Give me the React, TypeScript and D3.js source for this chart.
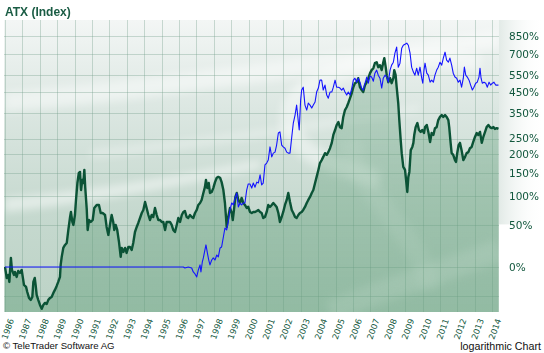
import { area, line, scaleLinear, scaleLog } from "d3";

// years along the bottom, % change ticks on the right (log scale of 1 + p/100)
const yearTicks = [
  1986, 1987, 1988, 1989, 1990, 1991, 1992, 1993, 1994, 1995, 1996, 1997, 1998, 1999, 2000,
  2001, 2002, 2003, 2004, 2005, 2006, 2007, 2008, 2009, 2010, 2011, 2012, 2013, 2014,
];
const pctTicks = [0, 50, 100, 150, 200, 250, 350, 450, 550, 700, 850];
const unlabeledGrid = [-25];

// ATX, change since start in % (green)
const atx: [number, number][] = [
  [1986.0, 0], [1986.1, -10.2], [1986.19, -7.5], [1986.25, -13.6], [1986.34, 9.2], [1986.4, -2.9],
  [1986.52, -7.5], [1986.57, -4.8], [1986.67, -9.3], [1986.76, -3.8], [1986.86, -5.7], [1986.96, -2.9],
  [1987.02, -9.3], [1987.09, -16.1], [1987.21, -17.7], [1987.28, -21.7], [1987.38, -26.1], [1987.48, -27.5],
  [1987.57, -25.4], [1987.63, -13.6], [1987.71, -10.2], [1987.76, -16.1], [1987.82, -23.9], [1987.91, -27.5],
  [1988.01, -31.0], [1988.11, -33.6], [1988.2, -31.0], [1988.3, -29.6], [1988.4, -30.3], [1988.49, -27.5],
  [1988.59, -26.1], [1988.68, -25.4], [1988.78, -22.4], [1988.87, -20.1], [1988.97, -16.9], [1989.06, -13.6],
  [1989.16, -9.3], [1989.2, 2], [1989.26, 10.3], [1989.35, 20.4], [1989.45, 24], [1989.55, 26.4],
  [1989.64, 43.5], [1989.74, 62.9], [1989.79, 71.1], [1989.87, 55.2], [1989.93, 50.7], [1990.02, 66.1],
  [1990.08, 92.4], [1990.16, 127], [1990.24, 150], [1990.31, 153], [1990.37, 112], [1990.44, 134],
  [1990.5, 127], [1990.56, 158], [1990.61, 118], [1990.7, 74.5], [1990.75, 43.5], [1990.83, 58.2],
  [1990.93, 55.2], [1991.04, 58.2], [1991.13, 77.9], [1991.27, 83.2], [1991.4, 83.2], [1991.5, 69.4],
  [1991.61, 69.4], [1991.75, 66.1], [1991.84, 47.8], [1991.94, 36.7], [1992.03, 50.7], [1992.13, 66.1],
  [1992.22, 55.2], [1992.28, 43.5], [1992.36, 50.7], [1992.45, 43.5], [1992.55, 27.7], [1992.65, 10.3],
  [1992.71, 20.4], [1992.8, 15.8], [1992.9, 20.4], [1992.99, 14.7], [1993.09, 21.6], [1993.18, 21.6],
  [1993.28, 18.1], [1993.37, 26.4], [1993.47, 40.7], [1993.57, 47.8], [1993.66, 53.7], [1993.76, 61.3],
  [1993.86, 69.4], [1993.95, 74.5], [1994.05, 88.6], [1994.14, 77.9], [1994.24, 66.1], [1994.33, 58.2],
  [1994.43, 66.1], [1994.52, 62.9], [1994.62, 77.9], [1994.72, 66.1], [1994.81, 58.2], [1994.91, 58.2],
  [1995.01, 55.2], [1995.1, 55.2], [1995.2, 43.5], [1995.29, 55.2], [1995.39, 55.2], [1995.48, 55.2],
  [1995.58, 50.7], [1995.67, 43.5], [1995.77, 40.7], [1995.87, 50.7], [1995.96, 61.3], [1996.06, 55.2],
  [1996.16, 66.1], [1996.25, 71.1], [1996.34, 72.8], [1996.44, 62.9], [1996.53, 61.3], [1996.63, 66.1],
  [1996.73, 62.9], [1996.82, 61.3], [1996.92, 69.4], [1997.02, 74.5], [1997.11, 83.2], [1997.21, 86.8],
  [1997.3, 92.4], [1997.4, 106], [1997.49, 118], [1997.55, 134], [1997.63, 116], [1997.71, 127],
  [1997.78, 106], [1997.88, 108], [1997.97, 116], [1998.07, 129], [1998.17, 139], [1998.26, 141],
  [1998.36, 139], [1998.45, 129], [1998.55, 112], [1998.64, 86.8], [1998.7, 62.9], [1998.74, 47.8],
  [1998.83, 62.9], [1998.93, 77.9], [1999.03, 69.4], [1999.09, 58.2], [1999.16, 74.5], [1999.24, 98.1],
  [1999.32, 106], [1999.41, 92.4], [1999.51, 86.8], [1999.6, 96.2], [1999.7, 86.8], [1999.79, 83.2],
  [1999.89, 77.9], [1999.98, 80], [2000.08, 71.1], [2000.18, 69.4], [2000.27, 71.1], [2000.37, 71.1],
  [2000.47, 72.8], [2000.56, 74.5], [2000.66, 71.1], [2000.75, 69.4], [2000.84, 61.3], [2000.94, 62.9],
  [2001.04, 71.1], [2001.13, 83.2], [2001.23, 79.7], [2001.33, 83.2], [2001.42, 86.8], [2001.52, 83.2],
  [2001.61, 79.7], [2001.71, 69.4], [2001.8, 55.2], [2001.9, 62.9], [2001.99, 71.1], [2002.09, 83.2],
  [2002.19, 92.4], [2002.28, 106], [2002.38, 88.6], [2002.48, 74.5], [2002.57, 69.4], [2002.67, 62.9],
  [2002.76, 61.3], [2002.86, 66.1], [2002.95, 69.4], [2003.05, 71.1], [2003.14, 74.5], [2003.24, 79.7],
  [2003.34, 86.8], [2003.43, 92.4], [2003.53, 98.1], [2003.63, 106], [2003.72, 112], [2003.82, 127],
  [2003.91, 141], [2004.01, 158], [2004.1, 176], [2004.2, 184], [2004.29, 193], [2004.39, 204],
  [2004.49, 199], [2004.58, 207], [2004.68, 219], [2004.78, 236], [2004.87, 263], [2004.97, 281],
  [2005.06, 300], [2005.16, 312], [2005.25, 292], [2005.35, 288], [2005.44, 333], [2005.54, 363],
  [2005.64, 377], [2005.73, 396], [2005.83, 420], [2005.93, 447], [2006.02, 479], [2006.11, 502],
  [2006.21, 508], [2006.3, 532], [2006.4, 479], [2006.5, 463], [2006.59, 452], [2006.69, 491],
  [2006.79, 508], [2006.88, 532], [2006.98, 564], [2007.07, 584], [2007.17, 597], [2007.26, 632],
  [2007.36, 639], [2007.45, 604], [2007.55, 618], [2007.65, 584], [2007.74, 639], [2007.8, 669],
  [2007.88, 604], [2007.94, 551], [2008.03, 508], [2008.13, 532], [2008.22, 502], [2008.32, 532],
  [2008.37, 584], [2008.45, 551], [2008.51, 479], [2008.6, 396], [2008.66, 320], [2008.74, 246],
  [2008.8, 204], [2008.89, 166], [2008.99, 158], [2009.05, 134], [2009.12, 108], [2009.18, 141],
  [2009.24, 153], [2009.32, 213], [2009.41, 223], [2009.47, 236], [2009.52, 263], [2009.6, 292],
  [2009.7, 308], [2009.79, 281], [2009.89, 274], [2009.98, 281], [2010.08, 270], [2010.14, 292],
  [2010.24, 300], [2010.33, 274], [2010.43, 239], [2010.52, 270], [2010.62, 263], [2010.71, 288],
  [2010.81, 292], [2010.9, 320], [2011.0, 333], [2011.1, 341], [2011.19, 333], [2011.29, 341],
  [2011.38, 333], [2011.48, 320], [2011.53, 292], [2011.61, 236], [2011.67, 204], [2011.76, 199],
  [2011.86, 184], [2011.92, 179], [2011.99, 204], [2012.07, 229], [2012.15, 236], [2012.24, 213],
  [2012.34, 184], [2012.44, 193], [2012.53, 204], [2012.63, 207], [2012.72, 219], [2012.82, 223],
  [2012.91, 239], [2013.01, 256], [2013.11, 270], [2013.2, 263], [2013.3, 274], [2013.4, 236],
  [2013.49, 256], [2013.59, 274], [2013.68, 292], [2013.78, 300], [2013.87, 292], [2013.97, 288],
  [2014.07, 292], [2014.16, 285], [2014.26, 288], [2014.36, 285],
];

// comparison series, change in % (blue)
const peer: [number, number][] = [
  [1986.0, 0], [1996.25, 0], [1996.34, -1], [1996.53, 0], [1996.73, -1], [1996.82, -4.8],
  [1996.92, -6.6], [1997.02, -9.3], [1997.11, -2.9], [1997.21, 2], [1997.26, -4.8], [1997.34, 5],
  [1997.4, 9.2], [1997.49, 18.1], [1997.55, 24], [1997.63, 14.7], [1997.71, 7], [1997.78, 2],
  [1997.88, 7], [1997.97, 9.2], [1998.07, 7], [1998.17, 12.4], [1998.26, 10.3], [1998.36, 20.4],
  [1998.45, 21.6], [1998.55, 34], [1998.64, 46.3], [1998.74, 43.5], [1998.83, 55.2], [1998.93, 74.5],
  [1999.03, 86.8], [1999.13, 83.2], [1999.22, 96.2], [1999.32, 106], [1999.41, 79.7], [1999.51, 86.8],
  [1999.6, 83.2], [1999.7, 86.8], [1999.79, 86.8], [1999.89, 112], [1999.98, 125], [2000.08, 125],
  [2000.18, 116], [2000.27, 127], [2000.37, 118], [2000.47, 129], [2000.56, 127], [2000.66, 146],
  [2000.75, 123], [2000.84, 127], [2000.94, 171], [2001.04, 176], [2001.13, 184], [2001.23, 223],
  [2001.33, 193], [2001.42, 204], [2001.52, 207], [2001.61, 229], [2001.71, 270], [2001.8, 274],
  [2001.9, 229], [2001.99, 223], [2002.09, 219], [2002.19, 207], [2002.28, 204], [2002.38, 204],
  [2002.48, 256], [2002.57, 308], [2002.67, 341], [2002.76, 386], [2002.86, 312], [2002.91, 281],
  [2002.99, 410], [2003.05, 463], [2003.14, 479], [2003.24, 386], [2003.34, 363], [2003.43, 396],
  [2003.53, 386], [2003.63, 372], [2003.72, 386], [2003.82, 401], [2003.91, 452], [2004.01, 474],
  [2004.1, 520], [2004.2, 520], [2004.29, 463], [2004.39, 491], [2004.49, 436], [2004.58, 420],
  [2004.68, 452], [2004.78, 452], [2004.87, 479], [2004.97, 520], [2005.06, 479], [2005.16, 479],
  [2005.25, 474], [2005.35, 463], [2005.44, 474], [2005.54, 452], [2005.64, 436], [2005.73, 452],
  [2005.83, 436], [2005.93, 474], [2006.02, 520], [2006.11, 532], [2006.21, 508], [2006.3, 532],
  [2006.4, 508], [2006.5, 474], [2006.59, 463], [2006.69, 502], [2006.79, 539], [2006.88, 502],
  [2006.98, 545], [2007.07, 539], [2007.17, 514], [2007.26, 564], [2007.36, 584], [2007.45, 551],
  [2007.55, 532], [2007.65, 474], [2007.74, 532], [2007.84, 551], [2007.94, 539], [2008.03, 508],
  [2008.13, 584], [2008.22, 618], [2008.32, 639], [2008.41, 707], [2008.51, 756], [2008.6, 604],
  [2008.7, 632], [2008.8, 747], [2008.89, 772], [2008.99, 781], [2009.09, 790], [2009.18, 772],
  [2009.28, 707], [2009.37, 604], [2009.47, 571], [2009.56, 551], [2009.66, 597], [2009.75, 551],
  [2009.85, 604], [2009.95, 532], [2010.01, 502], [2010.08, 584], [2010.14, 632], [2010.24, 564],
  [2010.33, 551], [2010.43, 508], [2010.52, 520], [2010.62, 508], [2010.71, 551], [2010.81, 584],
  [2010.9, 604], [2011.0, 639], [2011.1, 618], [2011.19, 669], [2011.29, 715], [2011.38, 654],
  [2011.48, 639], [2011.57, 669], [2011.67, 618], [2011.76, 564], [2011.86, 539], [2011.96, 532],
  [2012.05, 508], [2012.15, 520], [2012.24, 479], [2012.34, 532], [2012.4, 604], [2012.48, 551],
  [2012.57, 539], [2012.67, 520], [2012.76, 491], [2012.86, 463], [2012.95, 479], [2013.05, 502],
  [2013.14, 508], [2013.24, 539], [2013.3, 597], [2013.36, 532], [2013.43, 502], [2013.53, 508],
  [2013.63, 502], [2013.72, 479], [2013.82, 508], [2013.91, 491], [2014.01, 502], [2014.1, 508],
  [2014.2, 491], [2014.36, 491],
];

const W = 544;
const H = 353;
const plot = { left: 4, right: 499, top: 20, bottom: 312 };
const ink = "#11573d";

export default function App() {
  const x = scaleLinear().domain([1986, 2014]).range([5, 492.2]);
  const y = scaleLog().domain([0.644, 11.16]).range([plot.bottom, plot.top]);
  const yp = (p: number) => y(1 + p / 100);

  const lineGen = line<[number, number]>()
    .x((d) => x(d[0]))
    .y((d) => yp(d[1]));
  const areaGen = area<[number, number]>()
    .x((d) => x(d[0]))
    .y0(plot.bottom)
    .y1((d) => yp(d[1]));

  const pw = plot.right - plot.left;
  const ph = plot.bottom - plot.top;

  return (
    <svg
      width={W}
      height={H}
      style={{ position: "absolute", left: 0, top: 0, display: "block" }}
      fontFamily="'DejaVu Sans', Verdana, sans-serif"
    >
      <defs>
        <linearGradient id="bg" x1="0" y1="0" x2="0" y2="1">
          <stop offset="0" stopColor="#f3f6f5" />
          <stop offset="0.3" stopColor="#dce7e2" />
          <stop offset="0.65" stopColor="#c6d9cf" />
          <stop offset="1" stopColor="#bcd3c6" />
        </linearGradient>
        <linearGradient id="side" x1="0" y1="0" x2="1" y2="0">
          <stop offset="0" stopColor="#dfe8e4" stopOpacity="0.9" />
          <stop offset="1" stopColor="#ffffff" stopOpacity="0" />
        </linearGradient>
        <linearGradient id="fillg" x1="0" y1="0" x2="0" y2="1">
          <stop offset="0" stopColor="#5f9d78" stopOpacity="0.3" />
          <stop offset="1" stopColor="#5f9d78" stopOpacity="0.45" />
        </linearGradient>
        <filter id="soft" x="-20%" y="-20%" width="140%" height="140%">
          <feGaussianBlur stdDeviation="4" />
        </filter>
        <clipPath id="plotClip">
          <rect x={plot.left} y={plot.top} width={pw} height={ph} />
        </clipPath>
      </defs>

      <rect x={plot.right} y={plot.top} width={W - plot.right} height={ph * 0.7} fill="url(#side)" />
      <rect x={plot.left} y={plot.top} width={pw} height={ph} fill="url(#bg)" />

      <g clipPath="url(#plotClip)">
        {/* watermark streaks */}
        <g filter="url(#soft)" fill="#ffffff">
          <path d="M4,92 C150,80 300,58 499,30 L499,48 C300,76 150,100 4,112 Z" opacity={0.45} />
          <path d="M4,198 C80,192 160,180 260,160 L260,168 C160,190 80,204 4,212 Z" opacity={0.5} />
          <path d="M90,150 C200,140 300,125 420,105 L420,111 C300,132 200,148 90,158 Z" opacity={0.35} />
        </g>
        <g filter="url(#soft)" fill="none" stroke="#ffffff">
          <path d="M480,62 C400,52 300,70 290,110 C282,150 330,165 380,180" strokeWidth={18} opacity={0.45} />
          <path d="M330,312 C380,290 450,270 499,250" strokeWidth={22} opacity={0.3} />
          <path d="M350,140 C360,200 420,230 430,290" strokeWidth={20} opacity={0.2} />
        </g>

        {/* grid */}
        <g stroke="#6f9c87" strokeOpacity={0.34} strokeWidth={1}>
          {yearTicks.map((yr) => (
            <line key={yr} x1={Math.round(x(yr)) + 0.5} x2={Math.round(x(yr)) + 0.5} y1={plot.top} y2={plot.bottom} />
          ))}
          {[...pctTicks, ...unlabeledGrid].map((p) => (
            <line key={p} x1={plot.left} x2={plot.right} y1={Math.round(yp(p)) + 0.5} y2={Math.round(yp(p)) + 0.5} />
          ))}
        </g>

        <path d={areaGen(atx) ?? ""} fill="url(#fillg)" />
        <path d={lineGen(atx) ?? ""} fill="none" stroke="#0b5336" strokeWidth={2.4} strokeLinejoin="round" />
        <path d={lineGen(peer) ?? ""} fill="none" stroke="#1414ff" strokeWidth={1.1} strokeLinejoin="round" />
      </g>

      <text x={5} y={16} fontFamily="'Liberation Sans', Arial, sans-serif" fontWeight="bold" fontSize={12} fill="#1a5c44">
        ATX (Index)
      </text>

      {pctTicks.map((p) => (
        <text key={p} x={509} y={yp(p)} dy="0.35em" fontSize={10.5} fill={ink}>
          {p}%
        </text>
      ))}

      {yearTicks.map((yr) => (
        <text
          key={yr}
          transform={`translate(${x(yr) + 3.5},${318}) rotate(-70)`}
          textAnchor="end"
          dy="0.72em"
          fontSize={8.4}
          fill={ink}
        >
          {yr}
        </text>
      ))}

      <text x={3} y={349} fontFamily="'Liberation Sans', Arial, sans-serif" fontSize={9.6} fill="#111">
        © TeleTrader Software AG
      </text>
      <text x={541} y={350} textAnchor="end" fontFamily="'Liberation Sans', Arial, sans-serif" fontSize={10.7} fill="#111">
        logarithmic Chart
      </text>
    </svg>
  );
}
